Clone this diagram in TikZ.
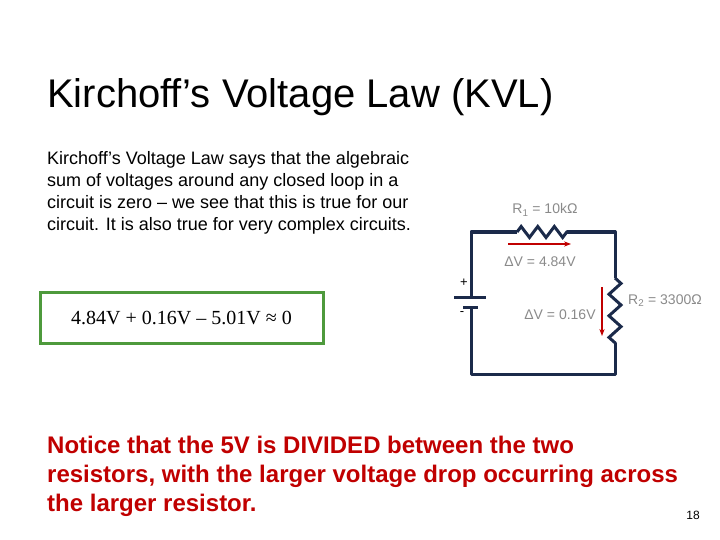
\documentclass[tikz,border=0pt]{standalone}
\usepackage{fontspec}
\setmainfont{Liberation Sans}
\newfontfamily\timesf{Liberation Serif}
\usetikzlibrary{decorations.pathmorphing,arrows.meta}
\definecolor{wire}{HTML}{1B2A4A}
\definecolor{dred}{HTML}{C00000}
\definecolor{gbox}{HTML}{4E9A3C}
\definecolor{gtext}{HTML}{8A8A8A}
\tikzset{wirel/.style={wire,line width=3pt},
 zig/.style={decorate,decoration={zigzag,segment length=16.6pt,amplitude=5.5pt}},
 zigb/.style={decorate,decoration={zigzag,segment length=21.6pt,amplitude=6pt}},
 darr/.style={dred,line width=2pt,-{Stealth[length=7pt]}},
 glab/.style={gtext,font=\fontsize{14}{16}\selectfont,anchor=center}}
\begin{document}
\begin{tikzpicture}[x=1pt,y=-1pt]
\useasboundingbox (0,0) rectangle (720,540);
\node[anchor=base west,font=\fontsize{40}{44}\selectfont,inner sep=0] (title) at (47,108) {Kirchoff’s Voltage Law (KVL)};
\node[anchor=north west,align=left,inner sep=0,font=\fontsize{18}{22}\selectfont] (para) at (47,151)
 {Kirchoff’s Voltage Law says that the algebraic\\sum of voltages around any closed loop in a\\circuit is zero – we see that this is true for our\\circuit. It is also true for very complex circuits.};
\node[draw=gbox,line width=3pt,minimum width=283,minimum height=51,font=\timesf\fontsize{20}{22}\selectfont] (eq) at (181.5,317.5) {4.84V + 0.16V – 5.01V ≈ 0};
% circuit
\coordinate (tl) at (471,232); \coordinate (tr) at (615,232);
\coordinate (bl) at (471,374); \coordinate (br) at (615,374);
\coordinate (r1a) at (517,232); \coordinate (r1b) at (567,232);
\coordinate (r2a) at (615,278); \coordinate (r2b) at (615,343);
\coordinate (bt) at (471,297); \coordinate (bb) at (471,307);
\draw[wirel,line join=round] (bt) -- (tl) -- (r1a);
\draw[wirel,zig] (r1a) -- (r1b);
\draw[wirel,line join=round] (r1b) -- (tr) -- (r2a);
\draw[wirel,zigb] (r2a) -- (r2b);
\draw[wirel,line join=round] (r2b) -- (br) -- (bl) -- (bb);
\draw[wirel] (454,297) -- (486,297);
\draw[wirel] (463,307) -- (478,307);
\node[font=\fontsize{13}{14}\selectfont] (plus) at (464,283) {+};
\node[font=\fontsize{13}{14}\selectfont] (minus) at (462,314) {-};
\coordinate (a1s) at (508,244); \coordinate (a1e) at (571,244);
\draw[darr] (a1s) -- (a1e);
\coordinate (a2s) at (602,287); \coordinate (a2e) at (602,336);
\draw[darr] (a2s) -- (a2e);
\node[glab] (r1l) at (545,210) {R\textsubscript{1} = 10kΩ};
\node[glab] (v1) at (540,262) {ΔV = 4.84V};
\node[glab] (v2) at (560,315) {ΔV = 0.16V};
\node[glab] (r2l) at (665,301) {R\textsubscript{2} = 3300Ω};
\node[anchor=north west,align=left,inner sep=0,dred,font=\bfseries\fontsize{24}{29}\selectfont] (note) at (47,436)
 {Notice that the 5V is DIVIDED between the two\\resistors, with the larger voltage drop occurring across\\the larger resistor.};
\node[font=\fontsize{12}{14}\selectfont] (pg) at (693,515) {18};
\end{tikzpicture}
\end{document}
